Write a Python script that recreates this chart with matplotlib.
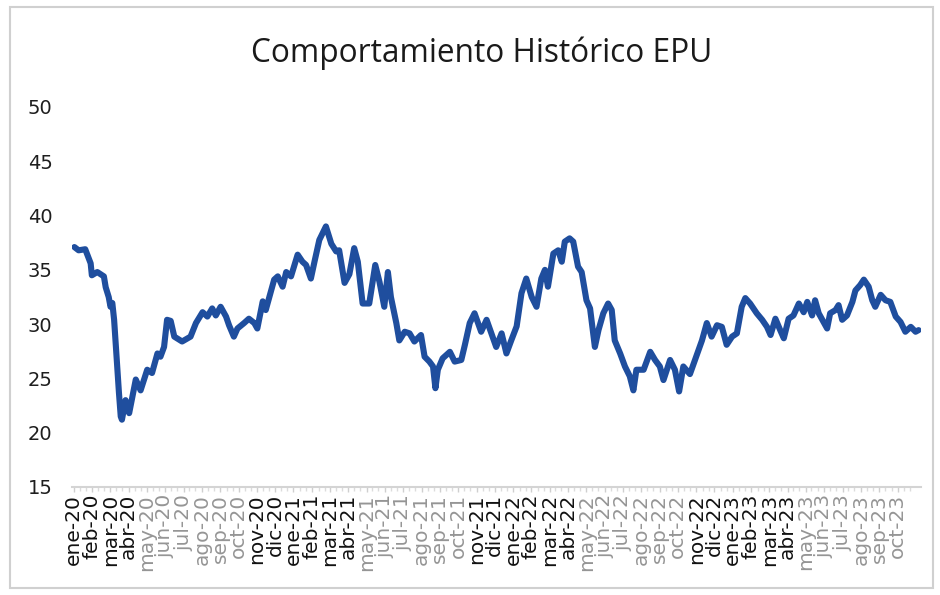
import matplotlib
matplotlib.use("Agg")
import matplotlib.pyplot as plt
import matplotlib.dates as mdates
from matplotlib.patches import Rectangle
import pandas as pd

title = "Comportamiento Histórico EPU"

dates = [
    "2020-01-02", "2020-01-09", "2020-01-20", "2020-01-29", "2020-01-31", "2020-02-09", "2020-02-20", "2020-02-23", "2020-02-28", "2020-03-02",
    "2020-03-05", "2020-03-08", "2020-03-16", "2020-03-19", "2020-03-21", "2020-03-27", "2020-04-02", "2020-04-13", "2020-04-21", "2020-05-02",
    "2020-05-10", "2020-05-19", "2020-05-24", "2020-05-30", "2020-06-04", "2020-06-10", "2020-06-16", "2020-06-29", "2020-07-13", "2020-07-22",
    "2020-08-02", "2020-08-10", "2020-08-18", "2020-08-24", "2020-09-01", "2020-09-10", "2020-09-15", "2020-09-23", "2020-09-29", "2020-10-10",
    "2020-10-18", "2020-10-27", "2020-11-01", "2020-11-10", "2020-11-15", "2020-11-29", "2020-12-05", "2020-12-13", "2020-12-19", "2020-12-27",
    "2021-01-07", "2021-01-15", "2021-01-21", "2021-01-29", "2021-02-04", "2021-02-12", "2021-02-23", "2021-03-04", "2021-03-12", "2021-03-17",
    "2021-03-26", "2021-04-03", "2021-04-11", "2021-04-17", "2021-04-25", "2021-05-06", "2021-05-16", "2021-05-23", "2021-05-31", "2021-06-06",
    "2021-06-11", "2021-06-20", "2021-06-25", "2021-07-04", "2021-07-12", "2021-07-20", "2021-07-31", "2021-08-06", "2021-08-14", "2021-08-20",
    "2021-08-24", "2021-08-28", "2021-09-05", "2021-09-17", "2021-09-25", "2021-10-06", "2021-10-12", "2021-10-20", "2021-10-28", "2021-11-08",
    "2021-11-17", "2021-11-25", "2021-12-03", "2021-12-12", "2021-12-20", "2021-12-28", "2022-01-06", "2022-01-14", "2022-01-22", "2022-01-31",
    "2022-02-08", "2022-02-16", "2022-02-22", "2022-02-27", "2022-03-08", "2022-03-16", "2022-03-22", "2022-03-27", "2022-04-04", "2022-04-10",
    "2022-04-18", "2022-04-24", "2022-05-02", "2022-05-08", "2022-05-16", "2022-05-22", "2022-05-30", "2022-06-07", "2022-06-13", "2022-06-18",
    "2022-06-27", "2022-07-05", "2022-07-13", "2022-07-19", "2022-07-24", "2022-08-05", "2022-08-16", "2022-08-24", "2022-09-01", "2022-09-07",
    "2022-09-18", "2022-09-26", "2022-10-03", "2022-10-10", "2022-10-21", "2022-11-01", "2022-11-10", "2022-11-18", "2022-11-26", "2022-12-05",
    "2022-12-13", "2022-12-21", "2022-12-30", "2023-01-07", "2023-01-15", "2023-01-21", "2023-01-29", "2023-02-09", "2023-02-18", "2023-02-26",
    "2023-03-04", "2023-03-12", "2023-03-20", "2023-03-26", "2023-04-03", "2023-04-11", "2023-04-20", "2023-04-28", "2023-05-04", "2023-05-12",
    "2023-05-17", "2023-05-23", "2023-05-31", "2023-06-06", "2023-06-11", "2023-06-20", "2023-06-25", "2023-07-01", "2023-07-09", "2023-07-18",
    "2023-07-23", "2023-07-31", "2023-08-06", "2023-08-14", "2023-08-20", "2023-08-25", "2023-09-03", "2023-09-11", "2023-09-19", "2023-09-28",
    "2023-10-06", "2023-10-14", "2023-10-23", "2023-10-31", "2023-11-05",
]

epu = [
    37.1, 36.8, 36.9, 35.6, 34.5, 34.8, 34.4, 33.4, 32.5, 31.6,
    31.95, 30.4, 23.7, 21.5, 21.2, 23.0, 21.8, 24.9, 23.9, 25.8,
    25.5, 27.3, 27.0, 27.9, 30.4, 30.3, 28.85, 28.4, 28.85, 30.1,
    31.1, 30.7, 31.45, 30.8, 31.6, 30.7, 29.9, 28.85, 29.6, 30.1,
    30.5, 30.1, 29.6, 32.1, 31.3, 34.1, 34.4, 33.45, 34.8, 34.4,
    36.4, 35.75, 35.45, 34.2, 35.75, 37.75, 39.0, 37.4, 36.7, 36.8,
    33.8, 34.6, 37.0, 35.75, 31.9, 31.9, 35.45, 33.9, 31.6, 34.8,
    32.5, 30.1, 28.5, 29.3, 29.15, 28.4, 29.0, 27.0, 26.55, 26.1,
    24.1, 25.8, 26.85, 27.45, 26.55, 26.7, 28.1, 30.1, 31.0, 29.3,
    30.4, 29.15, 27.9, 29.15, 27.3, 28.5, 29.8, 32.85, 34.2, 32.5,
    31.6, 34.2, 35.0, 33.45, 36.5, 36.8, 35.75, 37.6, 37.9, 37.6,
    35.3, 34.8, 32.2, 31.45, 27.9, 29.45, 31.0, 31.9, 31.3, 28.5,
    27.3, 26.1, 25.2, 23.9, 25.8, 25.8, 27.45, 26.7, 26.1, 24.85,
    26.7, 25.8, 23.8, 26.1, 25.4, 27.1, 28.5, 30.1, 28.85, 29.9,
    29.75, 28.1, 28.85, 29.15, 31.6, 32.4, 31.9, 31.0, 30.4, 29.75,
    29.0, 30.5, 29.45, 28.7, 30.5, 30.8, 31.9, 31.1, 32.05, 30.8,
    32.2, 31.0, 30.2, 29.6, 31.0, 31.3, 31.75, 30.4, 30.8, 32.05,
    33.1, 33.6, 34.1, 33.45, 32.2, 31.6, 32.7, 32.2, 32.05, 30.7,
    30.2, 29.3, 29.75, 29.3, 29.45,
]

month_abbr = ["ene", "feb", "mar", "abr", "may", "jun", "jul", "ago", "sep", "oct", "nov", "dic"]
label_start = "2020-01-01"
label_end = "2023-10-01"
y_ticks = [15, 20, 25, 30, 35, 40, 45, 50]

# ---------------------------------------------------------------
x = pd.to_datetime(dates)
month_starts = pd.date_range(label_start, label_end, freq="MS")
tick_labels = [f"{month_abbr[d.month - 1]}-{d.year % 100:02d}" for d in month_starts]
# evenly spaced label slots (category-style axis), first at the first month start
span = month_starts[-1] - month_starts[0]
n = len(month_starts)
tick_pos = [month_starts[0] + span * i / (n - 1) for i in range(n)]

W, H = 940, 595
fig = plt.figure(figsize=(W / 100, H / 100), dpi=100)
fig.patch.set_facecolor("white")

ax = fig.add_axes([72 / W, 108 / H, (921 - 72) / W, 380 / H])
ax.plot(x, epu, color="#1F4E9E", lw=4.4, solid_joinstyle="round", solid_capstyle="round")

ax.set_ylim(15, 50)
ax.set_yticks(y_ticks)
ax.set_xlim(x[0] - pd.Timedelta(days=4), x[-1] + pd.Timedelta(days=4))

for s in ["left", "right", "top"]:
    ax.spines[s].set_visible(False)
ax.spines["bottom"].set_color("#d4d4d4")
ax.spines["bottom"].set_linewidth(1.5)

ax.tick_params(axis="y", length=0, pad=14, labelsize=14, labelcolor="#1e1e1e")
for lab in ax.get_yticklabels():
    lab.set_fontfamily("DejaVu Sans")

ax.set_xticks(tick_pos)
ax.set_xticklabels(tick_labels, rotation=90, ha="center", va="top",
                   fontsize=14.5, fontfamily="DejaVu Sans")
ax.xaxis.set_minor_locator(mdates.DayLocator(bymonthday=[11, 21]))
ax.tick_params(axis="x", which="major", length=3.5, width=1, color="#cfcfcf", pad=1.5)
ax.tick_params(axis="x", which="minor", length=3, width=1, color="#dcdcdc")
for d, lab in zip(month_starts, ax.get_xticklabels()):
    lab.set_color("#959595" if 5 <= d.month <= 10 else "#111111")

fig.text(482 / W, 1 - 62 / H, title, ha="center", va="baseline",
         fontsize=22.8, fontfamily="Open Sans", color="#1a1a1a")

fig.patches.append(Rectangle((10 / W, 7 / H), (933 - 10) / W, (588 - 7) / H,
                             transform=fig.transFigure, fill=False,
                             ec="#d0d0d0", lw=1.5))

fig.savefig("out.png", dpi=100)
